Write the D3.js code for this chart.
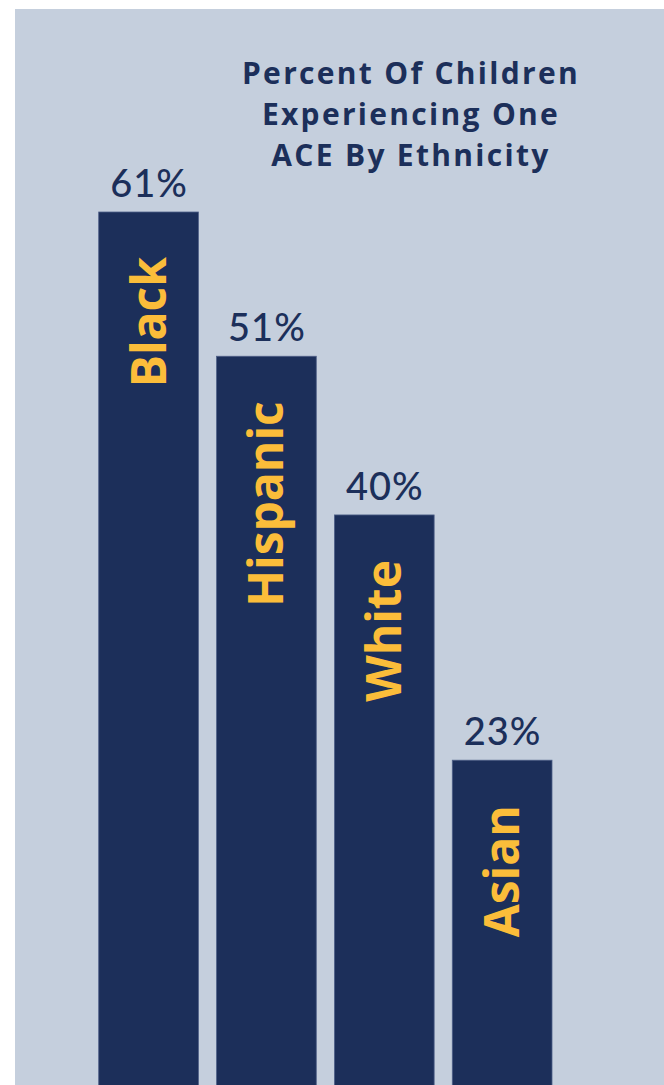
<!DOCTYPE html>
<html>
<head>
<meta charset="utf-8">
<script src="https://cdn.jsdelivr.net/npm/d3@7"></script>
<style>
  html, body { margin: 0; padding: 0; background: #ffffff; }
  svg { display: block; }
</style>
</head>
<body>
<svg id="chart" width="664" height="1085"></svg>
<script>
// Share of children with one adverse childhood experience (ACE), by ethnicity
const categories = ["Black", "Hispanic", "White", "Asian"];
const values = [61, 51, 40, 23];
const valueLabels = ["61%", "51%", "40%", "23%"];
const titleLines = ["Percent Of Children", "Experiencing One", "ACE By Ethnicity"];

const W = 664, H = 1085;
const navy = "#1c2f5a";
const panel = "#c5cfdd";
const gold = "#fbbd3a";

const svg = d3.select("#chart");

// panel behind the chart
svg.append("rect")
  .attr("x", 15).attr("y", 9)
  .attr("width", W - 15).attr("height", H - 9)
  .attr("fill", panel);

const x = d3.scaleBand()
  .domain(categories)
  .range([98.7, 552])
  .paddingInner(0.154)
  .paddingOuter(0);

const y = d3.scaleLinear()
  .domain([0, 61])
  .range([1092, 212]);

const rows = categories.map((c, i) => ({ cat: c, value: values[i], label: valueLabels[i] }));

// bars
svg.append("g")
  .selectAll("rect")
  .data(rows)
  .join("rect")
  .attr("x", d => x(d.cat))
  .attr("y", d => y(d.value))
  .attr("width", x.bandwidth())
  .attr("height", d => y(0) - y(d.value))
  .attr("fill", navy)
  .attr("stroke", "#4f6088")
  .attr("stroke-width", 0.8);

// value labels above bars
svg.append("g")
  .selectAll("text")
  .data(rows)
  .join("text")
  .attr("x", d => x(d.cat) + x.bandwidth() / 2 + 0.5)
  .attr("y", d => y(d.value) - 15)
  .attr("text-anchor", "middle")
  .attr("font-family", "Lato, 'Open Sans', sans-serif")
  .attr("font-weight", 500)
  .attr("font-size", 38)
  .attr("letter-spacing", 1)
  .attr("fill", navy)
  .text(d => d.label);

// category names written up the bars
svg.append("g")
  .selectAll("text")
  .data(rows)
  .join("text")
  .attr("transform", d => `translate(${x(d.cat) + x.bandwidth() / 2 + 17},${y(d.value) + 45}) rotate(-90)`)
  .attr("text-anchor", "end")
  .attr("font-family", "'Open Sans', Lato, sans-serif")
  .attr("font-weight", 700)
  .attr("font-size", 48)
  .attr("fill", gold)
  .text(d => d.cat);

// title
svg.append("g")
  .selectAll("text")
  .data(titleLines)
  .join("text")
  .attr("x", 411)
  .attr("y", (d, i) => 84 + i * 41)
  .attr("text-anchor", "middle")
  .attr("font-family", "'Open Sans', Lato, sans-serif")
  .attr("font-weight", 700)
  .attr("font-size", 30)
  .attr("letter-spacing", 2.3)
  .attr("fill", navy)
  .text(d => d);
</script>
</body>
</html>
